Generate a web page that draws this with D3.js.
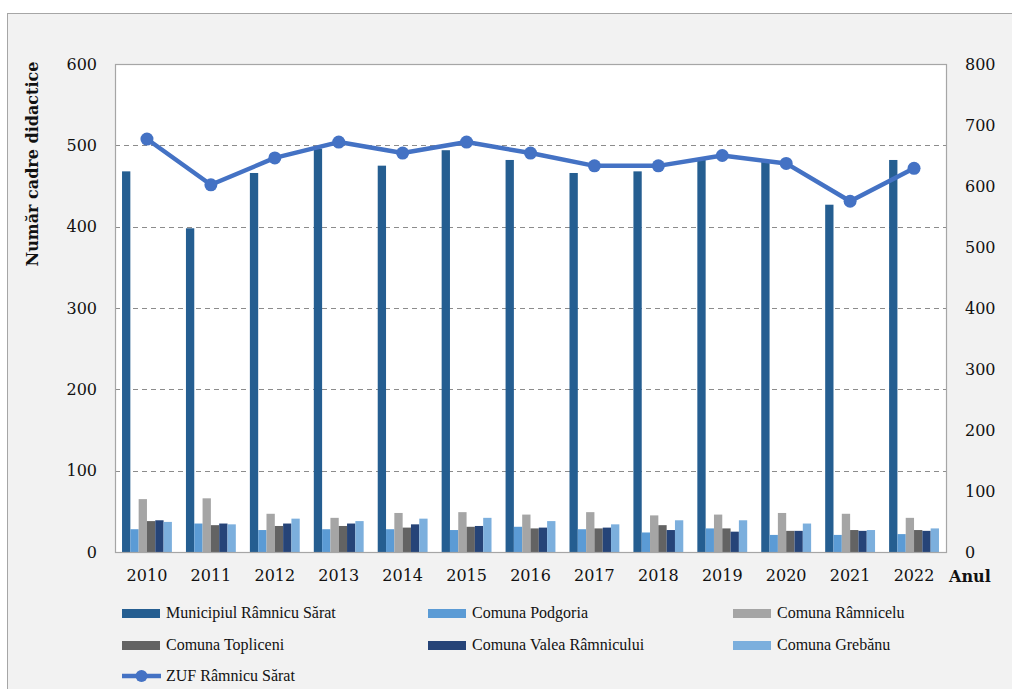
<!DOCTYPE html>
<html>
<head>
<meta charset="utf-8">
<script src="https://cdn.jsdelivr.net/npm/d3@7"></script>
<style>
html,body{margin:0;padding:0;background:#fff;}
svg{display:block;}
text{font-family:"Liberation Serif","DejaVu Serif",serif;}
</style>
</head>
<body>
<svg id="chart" width="1012" height="689"></svg>
<script>
const years = ["2010","2011","2012","2013","2014","2015","2016","2017","2018","2019","2020","2021","2022"];
const seriesNames = ["Municipiul Râmnicu Sărat","Comuna Podgoria","Comuna Râmnicelu","Comuna Topliceni","Comuna Valea Râmnicului","Comuna Grebănu"];
const municipiul = [468,398,466,496,475,494,482,466,468,484,480,427,482];
const podgoria   = [28,35,27,28,28,27,31,28,24,29,21,21,22];
const ramnicelu  = [65,66,47,42,48,49,46,49,45,46,48,47,42];
const topliceni  = [38,33,32,32,30,31,29,29,33,29,26,27,27];
const valea      = [39,35,35,35,34,32,30,30,27,25,26,26,26];
const grebanu    = [37,34,41,38,41,42,38,34,39,39,35,27,29];
const zufName = "ZUF Râmnicu Sărat";
const zuf = [677,602,646,672,654,672,654,633,633,650,637,575,629];
const leftTicks = [0,100,200,300,400,500,600];
const rightTicks = [0,100,200,300,400,500,600,700,800];
const colors = ["#255e91","#5b9bd5","#a5a5a5","#636363","#264478","#7cafdd"];
const lineColor = "#4472c4";

const barSeries = [municipiul,podgoria,ramnicelu,topliceni,valea,grebanu];

const svg = d3.select("#chart");
const W = 1012, H = 689;
const m = {left:115, right:946, top:64, bottom:552};
const tickFont = "'DejaVu Serif',serif";

// outer chart area
svg.append("rect").attr("x",7.5).attr("y",13.5).attr("width",W).attr("height",H)
  .attr("fill","#f2f2f2").attr("stroke","#a6a6a6").attr("stroke-width",1);

// plot area
svg.append("rect").attr("x",m.left+0.5).attr("y",m.top+0.5)
  .attr("width",m.right-m.left).attr("height",m.bottom-m.top)
  .attr("fill","#ffffff");

const x = d3.scaleBand().domain(years).range([m.left,m.right]).paddingInner(0.22).paddingOuter(0.11);
const xs = d3.scaleBand().domain(d3.range(barSeries.length)).range([0,x.bandwidth()]);
const yL = d3.scaleLinear().domain([0,600]).range([m.bottom,m.top]);
const yR = d3.scaleLinear().domain([0,800]).range([m.bottom,m.top]);

// gridlines
svg.append("g").selectAll("line").data(leftTicks.filter(t=>t>0 && t<600)).join("line")
  .attr("x1",m.left).attr("x2",m.right)
  .attr("y1",d=>Math.round(yL(d))+0.5).attr("y2",d=>Math.round(yL(d))+0.5)
  .attr("stroke","#8c8c8c").attr("stroke-width",1.2).attr("stroke-dasharray","5,4");

// bars
const gBars = svg.append("g");
barSeries.forEach((vals,si)=>{
  gBars.append("g").selectAll("rect").data(vals).join("rect")
    .attr("x",(d,i)=>x(years[i])+xs(si))
    .attr("width",xs.bandwidth())
    .attr("y",d=>yL(d))
    .attr("height",d=>yL(0)-yL(d))
    .attr("fill",colors[si]);
});

// plot border
svg.append("rect").attr("x",m.left+0.5).attr("y",m.top+0.5)
  .attr("width",m.right-m.left).attr("height",m.bottom-m.top)
  .attr("fill","none").attr("stroke","#a6a6a6").attr("stroke-width",1.2);

// line
const cx = (i)=>x(years[i])+x.bandwidth()/2;
svg.append("path").datum(zuf)
  .attr("d",d3.line().x((d,i)=>cx(i)).y(d=>yR(d)))
  .attr("fill","none").attr("stroke",lineColor).attr("stroke-width",4.5).attr("stroke-linejoin","round");
svg.append("g").selectAll("circle").data(zuf).join("circle")
  .attr("cx",(d,i)=>cx(i)).attr("cy",d=>yR(d)).attr("r",6.5).attr("fill",lineColor);

// axes
function styleAxis(g){
  g.select(".domain").remove();
  g.attr("font-family",null).attr("font-size",null);
  g.selectAll("text").attr("font-size",16).attr("fill","#111").style("font-family",tickFont);
}
const axL = d3.axisLeft(yL).tickValues(leftTicks).tickSize(0).tickPadding(18);
styleAxis(svg.append("g").attr("transform",`translate(${m.left},0)`).call(axL));

const axR = d3.axisRight(yR).tickValues(rightTicks).tickSize(0).tickPadding(19);
styleAxis(svg.append("g").attr("transform",`translate(${m.right},0)`).call(axR));

const axB = d3.axisBottom(x).tickSize(0).tickPadding(18);
styleAxis(svg.append("g").attr("transform",`translate(0,${m.bottom})`).call(axB));

// axis titles
svg.append("text").attr("transform","translate(38,164) rotate(-90)")
  .attr("text-anchor","middle").attr("font-size",16).attr("font-weight","bold").attr("fill","#111")
  .style("font-family",tickFont)
  .text("Număr cadre didactice");
svg.append("text").attr("x",949).attr("y",582)
  .attr("font-size",16).attr("font-weight","bold").attr("fill","#111")
  .style("font-family",tickFont).text("Anul");

// legend
const legCols = [122,428,733];
const legRows = [613,645,676];
const gLeg = svg.append("g");
seriesNames.forEach((name,i)=>{
  const lx = legCols[i%3], ly = legRows[Math.floor(i/3)];
  gLeg.append("rect").attr("x",lx).attr("y",ly-4).attr("width",38).attr("height",9).attr("fill",colors[i]);
  gLeg.append("text").attr("x",lx+44).attr("y",ly+5).attr("font-size",16).attr("fill","#111").text(name);
});
{
  const lx = legCols[0], ly = legRows[2];
  gLeg.append("line").attr("x1",lx).attr("x2",lx+39).attr("y1",ly).attr("y2",ly)
    .attr("stroke",lineColor).attr("stroke-width",4.5);
  gLeg.append("circle").attr("cx",lx+19.5).attr("cy",ly).attr("r",6).attr("fill",lineColor);
  gLeg.append("text").attr("x",lx+44).attr("y",ly+5).attr("font-size",16).attr("fill","#111").text(zufName);
}
</script>
</body>
</html>
